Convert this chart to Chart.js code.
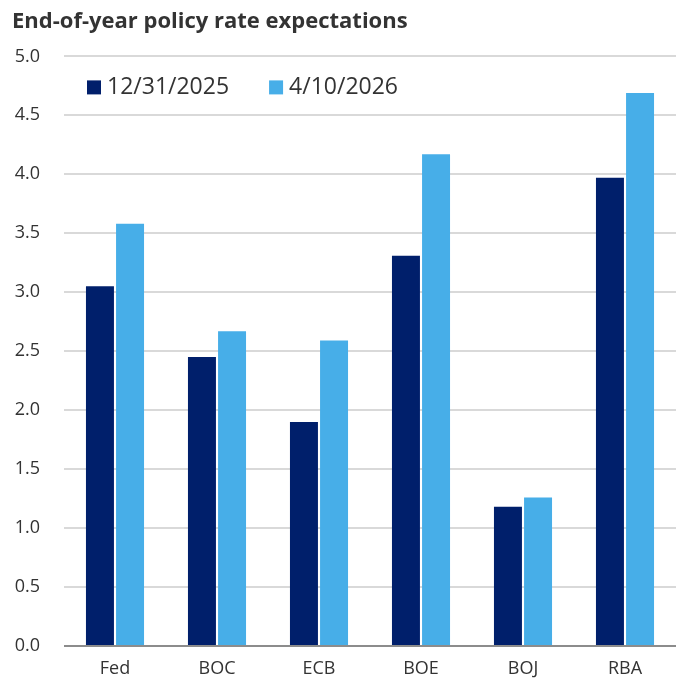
<!DOCTYPE html>
<html>
<head>
<meta charset="utf-8">
<script src="https://cdn.jsdelivr.net/npm/chart.js@4.4.1/dist/chart.umd.min.js"></script>
<style>
  html, body { margin: 0; padding: 0; background: #fff; }
  #wrap { width: 681px; height: 681px; }
</style>
</head>
<body>
<div id="wrap"><canvas id="rateChart" width="681" height="681"></canvas></div>
<script>
// Central banks and end-of-year policy rate expectations (%)
const banks = ["Fed", "BOC", "ECB", "BOE", "BOJ", "RBA"];
const seriesNames = ["12/31/2025", "4/10/2026"];
const dec2025 = [3.05, 2.45, 1.90, 3.31, 1.18, 3.97];
const apr2026 = [3.58, 2.67, 2.59, 4.17, 1.26, 4.69];
const yTicks = [0, 0.5, 1, 1.5, 2, 2.5, 3, 3.5, 4, 4.5, 5];

const FONT = "'Open Sans', Lato, sans-serif";

// Legend drawn inside the plot area, top-left, in a single row
const innerLegend = {
  id: "innerLegend",
  afterDraw(chart) {
    const c = chart.ctx;
    const area = chart.chartArea;
    let x = area.left + 23;
    const y = area.top + 31;
    c.save();
    c.font = "23px " + FONT;
    c.textBaseline = "middle";
    c.textAlign = "left";
    chart.data.datasets.forEach((ds) => {
      c.fillStyle = ds.backgroundColor;
      c.fillRect(x, y - 7, 14, 14);
      c.fillStyle = "#333333";
      c.fillText(ds.label, x + 20, y);
      x += 20 + c.measureText(ds.label).width + 40;
    });
    c.restore();
  },
};

document.addEventListener("DOMContentLoaded", function () {
  const ctx = document.getElementById("rateChart").getContext("2d");
  new Chart(ctx, {
    type: "bar",
    data: {
      labels: banks,
      datasets: [
        {
          label: seriesNames[0],
          data: dec2025,
          backgroundColor: "#001f6b",
          barPercentage: 0.93,
          categoryPercentage: 0.59,
        },
        {
          label: seriesNames[1],
          data: apr2026,
          backgroundColor: "#47aee8",
          barPercentage: 0.93,
          categoryPercentage: 0.59,
        },
      ],
    },
    plugins: [innerLegend],
    options: {
      responsive: false,
      animation: false,
      layout: {
        padding: { left: 12, right: 5, top: 0, bottom: 1 },
      },
      scales: {
        y: {
          min: 0,
          max: 5,
          afterBuildTicks: function (axis) {
            axis.ticks = yTicks.map((v) => ({ value: v }));
          },
          afterFit: function (axis) {
            axis.width = 52;
          },
          ticks: {
            padding: 24,
            color: "#333333",
            font: { family: FONT, size: 18 },
            callback: (v) => Number(v).toFixed(1),
          },
          grid: {
            drawTicks: false,
            lineWidth: 2,
            color: (c) => (c.tick && c.tick.value === 0 ? "#8c8c8c" : "#d9d9d9"),
          },
          border: { display: false },
        },
        x: {
          afterFit: function (axis) {
            axis.height = 34;
          },
          ticks: {
            padding: 12,
            color: "#333333",
            font: { family: FONT, size: 18 },
          },
          grid: { display: false, drawTicks: false },
          border: { display: false },
        },
      },
      plugins: {
        title: {
          display: true,
          text: "End-of-year policy rate expectations",
          align: "start",
          color: "#333333",
          font: { family: FONT, size: 22, weight: "bold" },
          padding: { top: 9, bottom: 21 },
        },
        legend: { display: false },
        tooltip: { enabled: false },
      },
    },
  });
});
</script>
</body>
</html>
